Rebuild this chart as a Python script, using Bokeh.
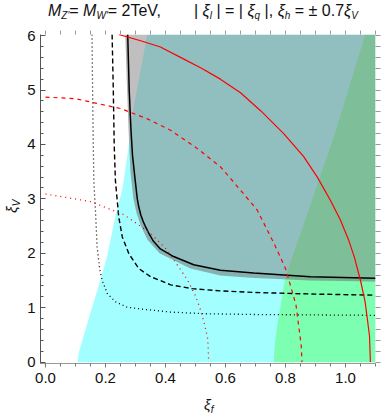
from bokeh.plotting import figure
from bokeh.models import Range1d, FixedTicker, LinearAxis, NumeralTickFormatter, Div
from bokeh.layouts import column, row
from bokeh.embed import file_html
from bokeh.resources import INLINE

# ---------------- data ----------------
X_MIN, X_MAX = -0.0167, 1.1
Y_MIN, Y_MAX = -0.025, 6.02

# cyan region: left boundary (region extends to the right/top)
cyan_x = [0.107, 0.111, 0.127, 0.150, 0.177, 0.205, 0.233, 0.255, 0.261, 0.277, 0.294, 0.339]
cyan_y = [0.0, 0.18, 0.48, 0.91, 1.40, 1.94, 2.68, 3.16, 3.35, 3.96, 4.69, 6.02]

# green region: left boundary
green_x = [0.761, 0.764, 0.772, 0.800, 0.866, 0.961, 1.066]
green_y = [0.0, 0.30, 0.66, 1.58, 2.62, 4.14, 6.02]

# grey region: outer edge of the band around the black curve
grey_x = [0.266, 0.272, 0.277, 0.283, 0.293, 0.303, 0.318, 0.340, 0.380, 0.483, 0.583, 0.683, 0.883, 1.1]
grey_y = [6.02, 5.0, 4.26, 3.5, 3.0, 2.75, 2.5, 2.25, 2.0, 1.72, 1.59, 1.55, 1.50, 1.48]

# black solid curve
bs_x = [0.274, 0.279, 0.285, 0.290, 0.299, 0.306, 0.311, 0.318, 0.326, 0.335, 0.346, 0.360, 0.383, 0.427, 0.494, 0.583, 0.694, 0.883, 1.1]
bs_y = [6.02, 5.0, 4.26, 3.8, 3.34, 3.0, 2.85, 2.70, 2.58, 2.47, 2.35, 2.22, 2.08, 1.94, 1.79, 1.69, 1.64, 1.57, 1.54]

# black dashed curve
bd_x = [0.222, 0.226, 0.229, 0.233, 0.244, 0.256, 0.278, 0.311, 0.350, 0.383, 0.417, 0.489, 0.583, 0.694, 0.900, 1.1]
bd_y = [6.02, 5.0, 4.0, 3.34, 2.67, 2.30, 1.99, 1.72, 1.57, 1.50, 1.42, 1.35, 1.31, 1.28, 1.25, 1.23]

# black dotted curve
bt_x = [0.155, 0.158, 0.161, 0.167, 0.172, 0.181, 0.189, 0.206, 0.233, 0.272, 0.328, 0.383, 0.417, 0.528, 0.694, 1.1]
bt_y = [6.02, 4.5, 3.34, 2.73, 2.12, 1.69, 1.50, 1.26, 1.11, 1.01, 0.97, 0.94, 0.92, 0.89, 0.875, 0.86]

# red solid curve
rs_x = [0.244, 0.320, 0.383, 0.450, 0.520, 0.583, 0.650, 0.717, 0.794, 0.860, 0.906, 0.950, 0.983, 1.010, 1.030, 1.050, 1.065, 1.072, 1.080, 1.083]
rs_y = [6.02, 5.90, 5.79, 5.60, 5.40, 5.20, 4.95, 4.62, 4.20, 3.78, 3.40, 2.97, 2.61, 2.25, 1.92, 1.50, 1.12, 0.83, 0.48, 0.0]

# red dashed curve
rd_x = [0.0, 0.100, 0.250, 0.340, 0.417, 0.500, 0.583, 0.650, 0.705, 0.761, 0.800, 0.817, 0.835, 0.844, 0.852, 0.855]
rd_y = [4.87, 4.84, 4.66, 4.47, 4.26, 3.95, 3.59, 3.16, 2.80, 2.19, 1.72, 1.40, 1.05, 0.66, 0.33, 0.0]

# red dotted curve
rt_x = [0.0, 0.150, 0.261, 0.350, 0.400, 0.440, 0.472, 0.500, 0.516, 0.530, 0.541, 0.544]
rt_y = [3.09, 2.95, 2.71, 2.37, 2.09, 1.78, 1.52, 1.22, 0.97, 0.70, 0.42, 0.0]

x_major = [0.0, 0.2, 0.4, 0.6, 0.8, 1.0]
x_minor = [0.05 * i for i in range(23)]
y_major = [0, 1, 2, 3, 4, 5, 6]
y_minor = [0.2 * i for i in range(31)]

FONT = "Liberation Sans"

p = figure(width=358, height=363, x_range=Range1d(X_MIN, X_MAX), y_range=Range1d(Y_MIN, Y_MAX),
           output_backend="svg", toolbar_location=None, x_axis_location=None, y_axis_location=None,
           min_border_left=16, min_border_right=7, min_border_top=8, min_border_bottom=26, margin=0)
p.outline_line_color = None
p.xgrid.visible = False
p.ygrid.visible = False

# ---------------- regions ----------------
p.patch(cyan_x + [X_MAX, X_MAX], cyan_y + [Y_MAX, 0.0], fill_color="#00FFFF", fill_alpha=0.36, line_color=None)
p.patch(green_x + [X_MAX, X_MAX], green_y + [Y_MAX, 0.0], fill_color="#28FF00", fill_alpha=0.30, line_color=None)
p.patch(grey_x + [X_MAX], grey_y + [Y_MAX], fill_color="#808080", fill_alpha=0.5, line_color=None)
p.patch(grey_x + bs_x[::-1], grey_y + bs_y[::-1], fill_color="#506868", fill_alpha=0.15, line_color=None)

# ---------------- curves ----------------
p.line(bt_x, bt_y, line_color="black", line_width=1.3, line_dash="1 3")
p.line(bd_x, bd_y, line_color="black", line_width=1.4, line_dash="5 3")
p.line(bs_x, bs_y, line_color="black", line_width=1.5)
p.line(rt_x, rt_y, line_color="red", line_width=1.3, line_dash="1 4")
p.line(rd_x, rd_y, line_color="red", line_width=1.2, line_dash="4 4")
p.line(rs_x, rs_y, line_color="red", line_width=1.2)

# ---------------- axes ----------------
def style(ax, color, tin, tout, mtin, mtout):
    ax.major_tick_line_color = color
    ax.minor_tick_line_color = color
    ax.major_tick_in = tin
    ax.major_tick_out = tout
    ax.minor_tick_in = mtin
    ax.minor_tick_out = mtout
    ax.major_label_text_font = FONT
    ax.major_label_text_font_size = "15px"
    ax.major_label_text_color = "#111111"

left = LinearAxis(ticker=FixedTicker(ticks=y_major, minor_ticks=y_minor))
style(left, "#555555", 5, 0, 3, 0)
left.axis_line_color = "#555555"
left.major_label_standoff = 5
p.add_layout(left, "left")

bottom = LinearAxis(ticker=FixedTicker(ticks=x_major, minor_ticks=x_minor),
                    formatter=NumeralTickFormatter(format="0.0"))
style(bottom, "#777777", 0, 4, 0, 3)
bottom.axis_line_color = "#999999"
bottom.major_label_standoff = 5
p.add_layout(bottom, "below")

# top / right: tick marks only (no labels)
top = LinearAxis(ticker=FixedTicker(ticks=[], minor_ticks=x_minor))
style(top, "#999999", 0, 4, 0, 4)
top.axis_line_color = None
top.major_label_standoff = 0
p.add_layout(top, "above")

right = LinearAxis(ticker=FixedTicker(ticks=[], minor_ticks=y_minor))
style(right, "#999999", 0, 5, 0, 5)
right.axis_line_color = None
right.major_label_standoff = 0
p.add_layout(right, "right")

# ---------------- texts (SVG text in Divs around the figure) ----------------
def flow_text(x, y, pieces, rotate=False):
    """pieces: (text, size, italic, subscript)"""
    tr = f' transform="rotate(-90 {x} {y})"' if rotate else ""
    spans = []
    shift = 0
    for s, size, italic, sub in pieces:
        dy = (3 if sub else 0) - shift
        shift = 3 if sub else 0
        st = "italic" if italic else "normal"
        spans.append(f'<tspan dy="{dy}" font-size="{size}px" font-style="{st}">{s}</tspan>')
    return (f'<text x="{x}" y="{y}" font-family="{FONT}" fill="#111111" xml:space="preserve"{tr}>'
            + "".join(spans) + "</text>")

def svg(w, h, body):
    return (f'<svg xmlns="http://www.w3.org/2000/svg" width="{w}" height="{h}" '
            f'style="overflow:visible;display:block">{body}</svg>')

T, S = 16, 10
title_a = [("M", T, True, False), ("Z′", S, True, True), ("= ", T, False, False),
           ("M", T, True, False), ("W′", S, True, True), ("= 2TeV,", T, False, False)]
title_b = [("| ", T, False, False), ("ξ", T, True, False), ("l", S, True, True),
           (" | = | ", T, False, False), ("ξ", T, True, False), ("q", S, True, True),
           (" |, ", T, False, False), ("ξ", T, True, False), ("h", S, True, True),
           (" = ± 0.7", T, False, False), ("ξ", T, True, False), ("V", S, True, True)]
title_div = Div(text=svg(382, 26, flow_text(48, 16, title_a) + flow_text(194, 16, title_b)),
                width=382, height=26, margin=0, styles={"overflow": "visible"})

ylab = [("ξ", 15, True, False), ("V", S, True, True)]
ylab_div = Div(text=svg(24, 363, flow_text(17, 213 - 26, ylab, rotate=True)),
               width=24, height=363, margin=0, styles={"overflow": "visible"})

xlab = [("ξ", 15, True, False), ("f", S, True, True)]
xlab_div = Div(text=svg(382, 25, flow_text(204, 410 - 389, xlab)),
               width=382, height=25, margin=0, styles={"overflow": "visible"})

layout = column(title_div, row(ylab_div, p, spacing=0), xlab_div, spacing=0)

open("out.html", "w").write(file_html(layout, INLINE))
